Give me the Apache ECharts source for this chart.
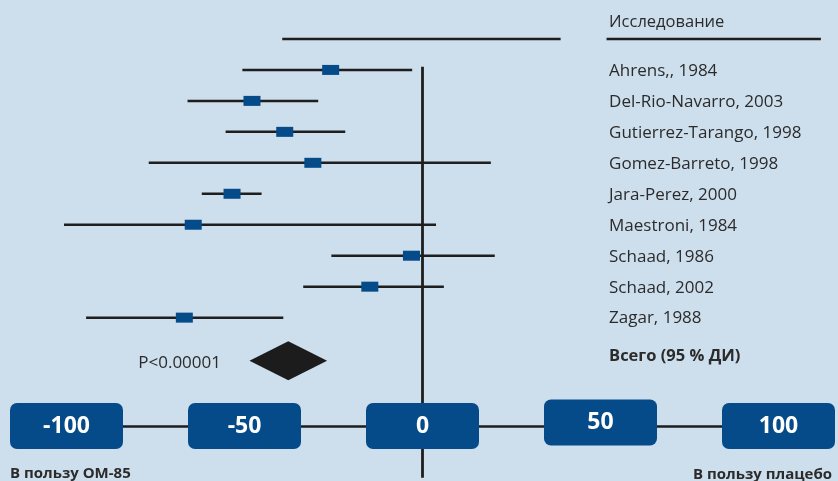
<!DOCTYPE html>
<html>
<head>
<meta charset="utf-8">
<script src="https://cdn.jsdelivr.net/npm/echarts@6/dist/echarts.min.js"></script>
<style>
  html, body { margin: 0; padding: 0; background: #cddeec; }
  #chart { width: 838px; height: 481px; }
</style>
</head>
<body>
<div id="chart"></div>
<script>
// Forest plot: mean difference per study with 95 % CI
const studies = [
  'Ahrens,, 1984',
  'Del-Rio-Navarro, 2003',
  'Gutierrez-Tarango, 1998',
  'Gomez-Barreto, 1998',
  'Jara-Perez, 2000',
  'Maestroni, 1984',
  'Schaad, 1986',
  'Schaad, 2002',
  'Zagar, 1988'
];
const estimates = [-25.8, -47.9, -38.7, -30.8, -53.5, -64.4, -3.1, -14.8, -66.9];
const lowerCI   = [-50.6, -66.0, -55.3, -76.9, -62.0, -100.7, -25.6, -33.5, -94.5];
const upperCI   = [-2.9, -29.3, -21.7, 19.2, -45.2, 3.8, 20.3, 6.0, -39.1];

const pooledEstimate = -37.7;
const pooledLower = -48.6;
const pooledUpper = -26.8;

const mainTicks = [-100, -50, 0, 100];
const raisedTicks = [50];

const headerText = 'Исследование';
const totalText = 'Всего (95 % ДИ)';
const pText = 'P<0.00001';
const leftFavour = 'В пользу ОМ-85';
const rightFavour = 'В пользу плацебо';

const INK = '#1e1e1e';
const BLUE = '#054b8a';
const TEXT = '#2b2b2b';
const FONT = '"Open Sans", sans-serif';

// row position of the pooled result, below the last study
const pooledRow = studies.length + 0.39;
const labelX = 52.4;   // x value where the study column starts

const tickLabel = (marginPx) => ({
  show: true,
  margin: marginPx,
  verticalAlign: 'middle',
  color: '#ffffff',
  fontFamily: FONT,
  fontWeight: 'bold',
  fontSize: 23,
  lineHeight: 22,
  width: 93,
  height: 22,
  align: 'center',
  padding: [12, 10],
  backgroundColor: BLUE,
  borderRadius: 7
});

const chart = echarts.init(document.getElementById('chart'), null, { renderer: 'canvas' });

chart.setOption({
  backgroundColor: '#cddeec',
  animation: false,
  grid: { left: 66.5, right: 57.5, top: 8, bottom: 55, containLabel: false },
  xAxis: [
    {
      type: 'value', min: -100, max: 100, interval: 50, position: 'bottom', z: 5,
      axisLine: { show: true, onZero: false, lineStyle: { color: INK, width: 2.5 } },
      axisTick: { show: false },
      splitLine: { show: false },
      axisLabel: Object.assign(tickLabel(0), { customValues: mainTicks })
    },
    {
      type: 'value', min: -100, max: 100, interval: 50, position: 'bottom', z: 5,
      axisLine: { show: false },
      axisTick: { show: false },
      splitLine: { show: false },
      axisLabel: Object.assign(tickLabel(-3.5), { customValues: raisedTicks })
    }
  ],
  yAxis: {
    type: 'value', min: -2, max: 11.5, inverse: true, show: false
  },
  series: [
    // reference line at zero difference
    {
      type: 'custom', clip: false, z: 2, silent: true,
      data: [[0]],
      renderItem: (params, api) => {
        const a = api.coord([api.value(0), -0.1]);
        const b = api.coord([api.value(0), 13.17]);
        return { type: 'line', shape: { x1: a[0], y1: a[1], x2: b[0], y2: b[1] },
                 style: { stroke: INK, lineWidth: 2.8 } };
      }
    },
    // confidence intervals and point estimates
    {
      type: 'custom', clip: false, z: 3, silent: true,
      data: studies.map((s, i) => [i, lowerCI[i], upperCI[i], estimates[i]]),
      renderItem: (params, api) => {
        const row = api.value(0);
        const lo = api.coord([api.value(1), row]);
        const hi = api.coord([api.value(2), row]);
        const est = api.coord([api.value(3), row]);
        return {
          type: 'group',
          children: [
            { type: 'line', shape: { x1: lo[0], y1: lo[1], x2: hi[0], y2: hi[1] },
              style: { stroke: INK, lineWidth: 2.5 } },
            { type: 'rect', shape: { x: est[0] - 8.5, y: est[1] - 5, width: 17, height: 10 },
              style: { fill: BLUE } }
          ]
        };
      }
    },
    // pooled estimate diamond
    {
      type: 'custom', clip: false, z: 3, silent: true,
      data: [[pooledRow, pooledLower, pooledEstimate, pooledUpper]],
      renderItem: (params, api) => {
        const row = api.value(0);
        const lo = api.coord([api.value(1), row]);
        const mid = api.coord([api.value(2), row]);
        const hi = api.coord([api.value(3), row]);
        const h = 19.5;
        return { type: 'polygon',
                 shape: { points: [[lo[0], lo[1]], [mid[0], mid[1] - h], [hi[0], hi[1]], [mid[0], mid[1] + h]] },
                 style: { fill: '#1c1c1c' } };
      }
    },
    // study names
    {
      type: 'custom', clip: false, z: 4, silent: true,
      data: studies.map((s, i) => [i]),
      renderItem: (params, api) => {
        const i = api.value(0);
        const p = api.coord([labelX, i]);
        return { type: 'text', x: p[0], y: p[1] + 1,
                 style: { text: studies[i], fill: TEXT, font: '17px ' + FONT,
                          textAlign: 'left', textVerticalAlign: 'middle' } };
      }
    },
    // header rules, header, totals and p-value
    {
      type: 'custom', clip: false, z: 4, silent: true,
      data: [[-1]],
      renderItem: (params, api) => {
        const row = api.value(0);
        const l1 = api.coord([-39.4, row]);
        const r1 = api.coord([38.8, row]);
        const l2 = api.coord([51.7, row]);
        const r2 = api.coord([111.9, row]);
        const t = api.coord([labelX, row]);
        const tot = api.coord([labelX, pooledRow]);
        const pv = api.coord([-56.6, pooledRow]);
        return {
          type: 'group',
          children: [
            { type: 'line', shape: { x1: l1[0], y1: l1[1], x2: r1[0], y2: r1[1] },
              style: { stroke: INK, lineWidth: 2.5 } },
            { type: 'line', shape: { x1: l2[0], y1: l2[1], x2: r2[0], y2: r2[1] },
              style: { stroke: INK, lineWidth: 2.5 } },
            { type: 'text', x: t[0], y: t[1] - 17,
              style: { text: headerText, fill: TEXT, font: '16.5px ' + FONT,
                       textAlign: 'left', textVerticalAlign: 'middle' } },
            { type: 'text', x: tot[0], y: tot[1] - 4,
              style: { text: totalText, fill: TEXT, font: 'bold 16.5px ' + FONT,
                       textAlign: 'left', textVerticalAlign: 'middle' } },
            { type: 'text', x: pv[0], y: pv[1] + 2,
              style: { text: pText, fill: TEXT, font: '17px ' + FONT,
                       textAlign: 'right', textVerticalAlign: 'middle' } }
          ]
        };
      }
    }
  ],
  graphic: [
    { type: 'text', left: 10, bottom: 0,
      style: { text: leftFavour, fill: TEXT, font: 'bold 15px ' + FONT } },
    { type: 'text', right: 6, bottom: -1,
      style: { text: rightFavour, fill: TEXT, font: 'bold 15px ' + FONT } }
  ]
});
</script>
</body>
</html>
